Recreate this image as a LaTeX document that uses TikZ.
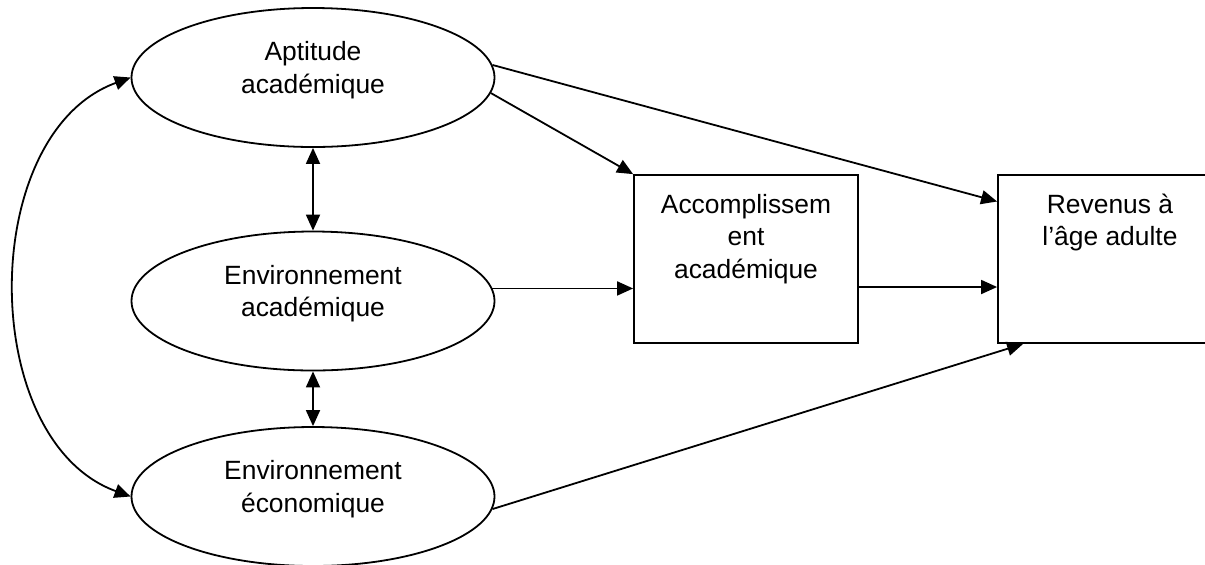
\documentclass[tikz,border=0pt]{standalone}
\usepackage{fontspec}
\setmainfont{Liberation Sans}
\usetikzlibrary{shapes.geometric, arrows.meta}
\tikzstyle{latent} = [ellipse, minimum width=181.5pt, minimum height=69.5pt, inner sep=0pt, align=center, text depth=10pt, draw=black, line width=0.9pt]
\tikzstyle{observed} = [rectangle, minimum width=112pt, minimum height=84pt, inner sep=0pt, draw=black, line width=0.9pt]
\tikzstyle{arrow} = [line width=0.9pt,-{Triangle[length=8pt,width=7pt]}]
\tikzstyle{twoway} = [line width=0.9pt,{Triangle[length=8pt,width=7pt]}-{Triangle[length=8pt,width=7pt]}]
% text sits at the top of the boxes
\newcommand{\boxtext}[1]{\parbox[c][84pt][t]{112pt}{\centering\vspace*{9.5pt}#1}}

\begin{document}
\begin{tikzpicture}[node distance=100pt, font=\fontsize{13.2}{16.25}\selectfont]

\useasboundingbox (0,0) rectangle (602.5pt,-282pt);

\node (apt) [latent] at (156.5pt,-38.75pt) {Aptitude\\académique};
\node (env) [latent, below of=apt, yshift=-11.75pt] {Environnement\\académique};
\node (eco) [latent, below of=env, yshift=2.25pt] {Environnement\\économique};

\node (ach) [observed, right of=env, xshift=116.5pt, yshift=21pt] {\boxtext{Accomplissem\\ent\\académique}};
\node (rev) [observed, right of=ach, xshift=82pt] {\boxtext{Revenus à\\l’âge adulte}};

\draw [arrow] (apt.-5) -- (ach.north west);
\draw [arrow] (apt.4) -- (rev.153);
\draw [arrow] (env.4.5) -- (env.4.5 -| ach.west);
\draw [arrow] ([yshift=-14pt]ach.east) -- ([yshift=-14pt]rev.west);
\draw [arrow] (eco.-4) -- ([xshift=13pt]rev.south west);

\draw [twoway] (apt.south) -- (env.north);
\draw [twoway] (env.south) -- (eco.north);
\draw [twoway] (apt.west) to[out=200, in=160, looseness=1.0] (eco.west);

\end{tikzpicture}
\end{document}
